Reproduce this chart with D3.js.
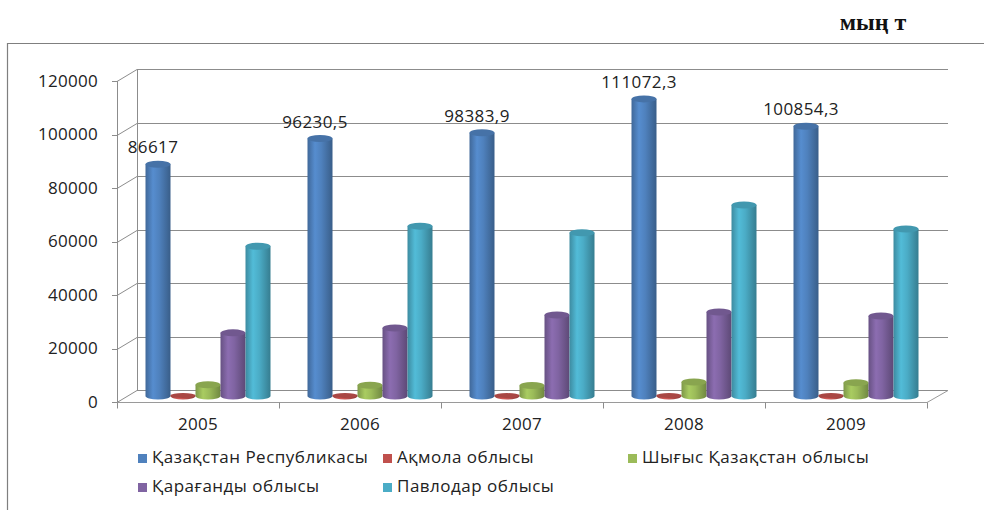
<!DOCTYPE html>
<html>
<head>
<meta charset="utf-8">
<script src="https://cdn.jsdelivr.net/npm/d3@7"></script>
<style>
  body { margin: 0; background: #fff; }
  svg { display: block; }
</style>
</head>
<body>
<div id="chart"></div>
<script>
// data
var years = ["2005", "2006", "2007", "2008", "2009"];
var seriesNames = ["Қазақстан Республикасы", "Ақмола облысы", "Шығыс Қазақстан облысы", "Қарағанды облысы", "Павлодар облысы"];
var kazakhstan = [86617, 96230.5, 98383.9, 111072.3, 100854.3];
var akmola = [150, 150, 150, 150, 150];
var eastKz = [4200, 4000, 3900, 5200, 5000];
var karaganda = [23600, 25400, 30300, 31400, 29900];
var pavlodar = [56000, 63500, 61000, 71400, 62400];
var yTicks = [0, 20000, 40000, 60000, 80000, 100000, 120000];
var unitText = "мың т";

var seriesValues = [kazakhstan, akmola, eastKz, karaganda, pavlodar];
var colors = ["#4F81BD", "#C0504D", "#9BBB59", "#8064A2", "#4BACC6"];

var W = 984, H = 510;
var depthX = 20, depthY = -12;   // 3d depth of the plot box
var fontFam = "'Open Sans', sans-serif";

var svg = d3.select("#chart").append("svg")
  .attr("width", W)
  .attr("height", H);

// gradients for the cylinders
var defs = svg.append("defs");
colors.forEach(function (c, i) {
  var base = d3.color(c);
  var g = defs.append("linearGradient")
    .attr("id", "cyl" + i)
    .attr("x1", "0%").attr("x2", "100%").attr("y1", "0%").attr("y2", "0%");
  g.append("stop").attr("offset", "0%").attr("stop-color", base.darker(0.6));
  g.append("stop").attr("offset", "30%").attr("stop-color", base.brighter(0.25));
  g.append("stop").attr("offset", "55%").attr("stop-color", base);
  g.append("stop").attr("offset", "100%").attr("stop-color", base.darker(0.9));
});

// chart frame
svg.append("path")
  .attr("d", "M7.5," + H + "V43.5H" + W)
  .attr("fill", "none")
  .attr("stroke", "#7f7f7f")
  .attr("stroke-width", 1.2);

svg.append("text")
  .attr("x", 873)
  .attr("y", 30)
  .attr("text-anchor", "middle")
  .style("font-family", "'Liberation Serif', serif")
  .style("font-weight", "bold")
  .style("font-size", "24px")
  .attr("fill", "#111")
  .text(unitText);

// scales (front plane)
var y = d3.scaleLinear().domain([0, 120000]).range([402, 81]);
var x = d3.scaleBand().domain(years).range([117, 927]).padding(0);
var xs = d3.scaleBand().domain(d3.range(seriesNames.length))
  .range([0, x.bandwidth()])
  .paddingInner(0).paddingOuter(0.74);

var grid = svg.append("g").attr("stroke", "#8c8c8c").attr("fill", "none").attr("stroke-width", 1);

// gridlines on side wall + back wall
yTicks.forEach(function (t) {
  var yy = Math.round(y(t)) + 0.5;
  grid.append("path")
    .attr("d", "M112," + yy + "H117L" + (117 + depthX) + "," + (yy + depthY) + "H" + (927 + depthX + 1));
});

// side wall edges
grid.append("line").attr("x1", 117.5).attr("x2", 117.5).attr("y1", y(120000)).attr("y2", y(0));
grid.append("line").attr("x1", 117.5 + depthX).attr("x2", 117.5 + depthX)
  .attr("y1", y(120000) + depthY).attr("y2", y(0) + depthY);

// floor
var y0 = Math.round(y(0)) + 0.5;
grid.append("path")
  .attr("d", "M117," + y0 + "H927L" + (927 + depthX + 1) + "," + (y0 + depthY))
  .attr("stroke", "#9a9a9a");

// category ticks
x.domain().concat(["end"]).forEach(function (d, i) {
  var xx = Math.round(117 + i * x.bandwidth()) + 0.5;
  grid.append("line").attr("x1", xx).attr("x2", xx).attr("y1", y0).attr("y2", y0 + 6);
});

// y axis labels
svg.append("g").selectAll("text")
  .data(yTicks)
  .enter().append("text")
  .attr("x", 98)
  .attr("y", function (d) { return y(d); })
  .attr("dy", "0.35em")
  .attr("text-anchor", "end")
  .style("font-family", fontFam)
  .style("font-size", "17px")
  .style("letter-spacing", "0.3px")
  .attr("fill", "#222")
  .text(d3.format("d"));

// x axis labels
svg.append("g").selectAll("text")
  .data(years)
  .enter().append("text")
  .attr("x", function (d) { return x(d) + x.bandwidth() / 2; })
  .attr("y", 430)
  .attr("text-anchor", "middle")
  .style("font-family", fontFam)
  .style("font-size", "17px")
  .style("letter-spacing", "0.3px")
  .attr("fill", "#222")
  .text(function (d) { return d; });

// cylinders
var rx = xs.bandwidth() / 2, ry = 3.5;
var bars = [];
seriesValues.forEach(function (vals, s) {
  vals.forEach(function (v, i) {
    bars.push({ s: s, i: i, v: v });
  });
});

var cyl = svg.append("g").selectAll("g")
  .data(bars)
  .enter().append("g");

function cx(d) { return x(years[d.i]) + xs(d.s) + rx + depthX / 2; }
function yb(d) { return y(0) + depthY / 2; }
function yt(d) { return y(d.v) + depthY / 2; }

cyl.append("path")
  .attr("d", function (d) {
    var c = cx(d), b = yb(d), t = yt(d);
    return "M" + (c - rx) + "," + t +
      "V" + b +
      "A" + rx + "," + ry + " 0 0 0 " + (c + rx) + "," + b +
      "V" + t + "Z";
  })
  .attr("fill", function (d) { return "url(#cyl" + d.s + ")"; });

cyl.append("ellipse")
  .attr("cx", cx)
  .attr("cy", yt)
  .attr("rx", rx)
  .attr("ry", function (d) { return d.s === 1 ? 2.5 : ry; })
  .attr("fill", function (d) { return d3.color(colors[d.s]).darker(0.35); });

// data labels on the first series
var fmt = d3.formatLocale({ decimal: ",", thousands: "", grouping: [3], currency: ["", ""] }).format("~f");
svg.append("g").selectAll("text")
  .data(bars.filter(function (d) { return d.s === 0; }))
  .enter().append("text")
  .attr("x", function (d) { return cx(d) - 5; })
  .attr("y", function (d) { return yt(d) - 11; })
  .attr("text-anchor", "middle")
  .style("font-family", fontFam)
  .style("font-size", "17px")
  .style("letter-spacing", "0.4px")
  .attr("fill", "#222")
  .text(function (d) { return fmt(d.v); });

// legend
var legendPos = [[138, 463], [383, 463], [628, 463], [138, 492], [383, 492]];
var lg = svg.append("g").selectAll("g")
  .data(seriesNames)
  .enter().append("g")
  .attr("transform", function (d, i) { return "translate(" + legendPos[i][0] + "," + legendPos[i][1] + ")"; });

lg.append("rect")
  .attr("x", 0).attr("y", -9)
  .attr("width", 9).attr("height", 9)
  .attr("fill", function (d, i) { return colors[i]; });

lg.append("text")
  .attr("x", 14)
  .attr("y", 0)
  .style("font-family", fontFam)
  .style("font-size", "17px")
  .style("letter-spacing", "0.5px")
  .attr("fill", "#222")
  .text(function (d) { return d; });
</script>
</body>
</html>
